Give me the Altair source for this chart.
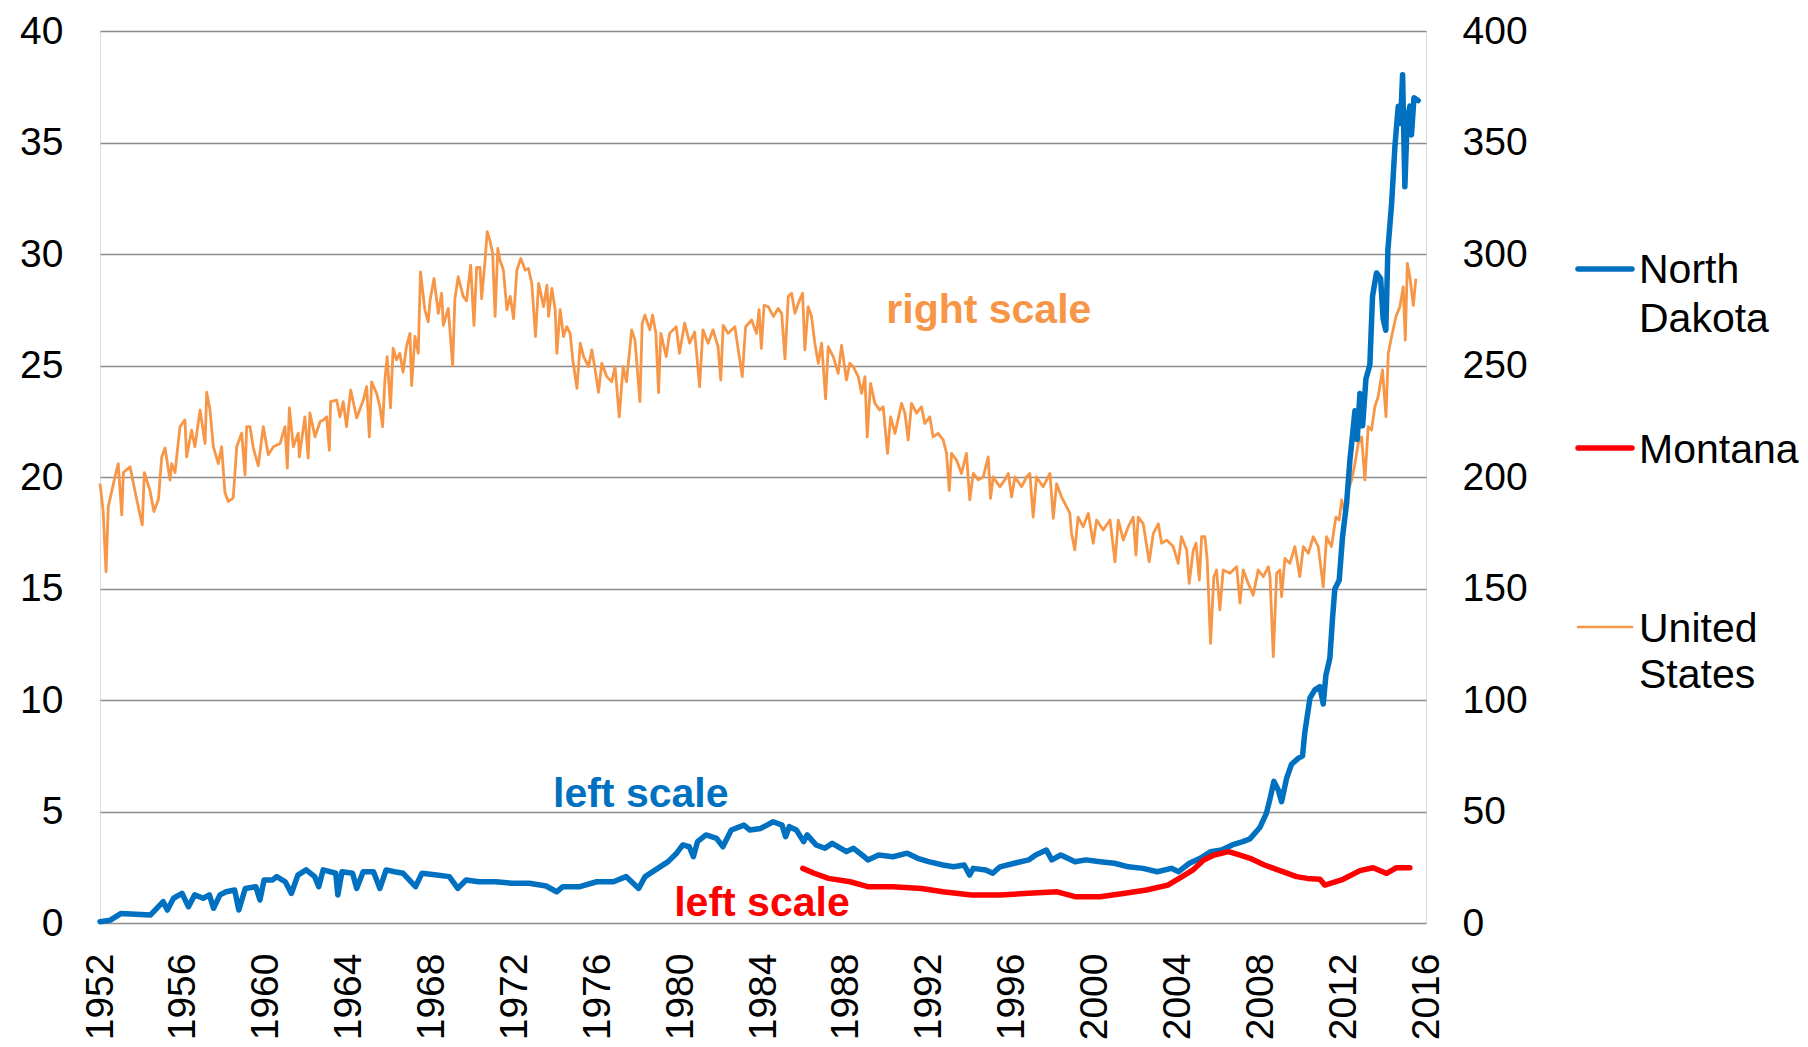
import altair as alt
import pandas as pd

FONT = "Liberation Sans"
YEAR_TICKS = list(range(1952, 2017, 4))
LEFT_TICKS = list(range(0, 41, 5))
RIGHT_TICKS = list(range(0, 401, 50))

# United States (right scale)
us_years = [1952.00, 1952.15, 1952.29, 1952.40, 1952.72, 1952.88, 1953.05, 1953.13, 1953.45, 1953.77,
            1954.04, 1954.14, 1954.41, 1954.60, 1954.82, 1954.98, 1955.14, 1955.38, 1955.46, 1955.62,
            1955.86, 1956.10, 1956.18, 1956.42, 1956.58, 1956.83, 1957.07, 1957.15, 1957.31, 1957.47,
            1957.71, 1957.87, 1958.03, 1958.19, 1958.43, 1958.60, 1958.84, 1959.00, 1959.08, 1959.24,
            1959.40, 1959.64, 1959.88, 1960.12, 1960.37, 1960.69, 1960.93, 1961.04, 1961.14, 1961.33,
            1961.57, 1961.62, 1961.89, 1962.05, 1962.13, 1962.38, 1962.62, 1962.78, 1962.94, 1963.07,
            1963.13, 1963.42, 1963.58, 1963.74, 1963.90, 1964.10, 1964.39, 1964.71, 1964.87, 1965.00,
            1965.11, 1965.35, 1965.51, 1965.64, 1965.75, 1965.86, 1966.02, 1966.15, 1966.31, 1966.47,
            1966.63, 1966.79, 1966.96, 1967.04, 1967.20, 1967.36, 1967.47, 1967.68, 1967.84, 1967.93,
            1968.12, 1968.33, 1968.49, 1968.57, 1968.81, 1969.02, 1969.13, 1969.29, 1969.53, 1969.69,
            1969.89, 1970.05, 1970.18, 1970.34, 1970.42, 1970.58, 1970.69, 1970.82, 1970.95, 1971.07,
            1971.20, 1971.31, 1971.47, 1971.64, 1971.80, 1971.96, 1972.12, 1972.31, 1972.52, 1972.68,
            1972.84, 1973.02, 1973.17, 1973.41, 1973.57, 1973.65, 1973.81, 1973.97, 1974.05, 1974.21,
            1974.37, 1974.53, 1974.69, 1974.82, 1975.02, 1975.18, 1975.34, 1975.58, 1975.74, 1975.90,
            1976.06, 1976.22, 1976.46, 1976.70, 1976.86, 1977.06, 1977.25, 1977.41, 1977.55, 1977.66,
            1977.82, 1978.06, 1978.17, 1978.30, 1978.54, 1978.67, 1978.83, 1978.96, 1979.07, 1979.33,
            1979.49, 1979.81, 1979.97, 1980.22, 1980.46, 1980.70, 1980.94, 1981.10, 1981.35, 1981.59,
            1981.83, 1981.96, 1982.08, 1982.32, 1982.64, 1983.00, 1983.16, 1983.45, 1983.69, 1983.81,
            1983.92, 1984.05, 1984.25, 1984.50, 1984.73, 1984.90, 1985.06, 1985.22, 1985.38, 1985.54,
            1985.75, 1985.91, 1986.02, 1986.18, 1986.34, 1986.50, 1986.67, 1986.83, 1987.02, 1987.15,
            1987.39, 1987.63, 1987.79, 1988.03, 1988.19, 1988.35, 1988.60, 1988.76, 1988.92, 1989.03,
            1989.19, 1989.40, 1989.64, 1989.80, 1990.01, 1990.16, 1990.37, 1990.69, 1990.85, 1991.01,
            1991.17, 1991.41, 1991.65, 1991.81, 1992.05, 1992.21, 1992.45, 1992.70, 1992.86, 1992.99,
            1993.10, 1993.34, 1993.58, 1993.82, 1993.98, 1994.15, 1994.39, 1994.63, 1994.87, 1994.98,
            1995.11, 1995.43, 1995.67, 1995.84, 1996.00, 1996.16, 1996.48, 1996.72, 1996.88, 1997.04,
            1997.20, 1997.52, 1997.85, 1998.01, 1998.17, 1998.41, 1998.65, 1998.81, 1998.89, 1999.05,
            1999.21, 1999.45, 1999.70, 1999.94, 2000.10, 2000.42, 2000.75, 2000.99, 2001.15, 2001.39,
            2001.63, 2001.87, 2002.00, 2002.11, 2002.35, 2002.64, 2002.84, 2003.08, 2003.24, 2003.48,
            2003.80, 2004.04, 2004.20, 2004.45, 2004.57, 2004.77, 2004.90, 2005.06, 2005.17, 2005.33,
            2005.44, 2005.60, 2005.76, 2005.89, 2006.05, 2006.21, 2006.54, 2006.86, 2007.02, 2007.18,
            2007.42, 2007.66, 2007.90, 2008.15, 2008.39, 2008.47, 2008.63, 2008.79, 2008.95, 2009.03,
            2009.19, 2009.43, 2009.67, 2009.91, 2010.08, 2010.32, 2010.56, 2010.80, 2011.04, 2011.20,
            2011.44, 2011.65, 2011.81, 2011.93, 2012.09, 2012.25, 2012.41, 2012.57, 2012.73, 2012.89,
            2013.05, 2013.21, 2013.37, 2013.53, 2013.69, 2013.90, 2014.07, 2014.18, 2014.34, 2014.55,
            2014.74, 2014.90, 2015.00, 2015.10, 2015.22, 2015.39, 2015.51]
us_values = [197, 185, 157.5, 186.7, 200, 206, 183, 202, 204.6, 190,
             178.5, 202, 194, 184.5, 190, 209, 213, 198.6, 206, 202,
             222.6, 225.6, 209, 221, 213.6, 230, 215, 238, 230, 213.6,
             206, 213.6, 193, 189, 190.6, 213.6, 219.7, 201, 222.6, 222.6,
             213, 205, 222.6, 210, 213.6, 215, 222.6, 204, 231, 213.6,
             219.7, 209, 227, 208.5, 228.7, 218, 224.8, 225.6, 227, 212,
             233.8, 234.5, 227, 233.8, 222.6, 239, 226.5, 234.5, 240.5, 218,
             242.7, 237.5, 231.5, 222.6, 243.5, 254, 231, 257.8, 252.5, 255.5,
             247, 258.4, 264.4, 241, 263, 255.5, 292, 275, 269.6, 279,
             289, 273.4, 282.4, 268, 275.6, 250, 280, 289.8, 281, 279,
             295, 268, 294, 294, 280, 296.5, 310, 306, 300.4, 272,
             302.5, 297, 292.8, 275, 281, 271, 292.8, 298, 292.8, 293.5,
             286.8, 263, 286.8, 276.4, 286, 272, 284.6, 275, 255.5, 275,
             263, 267.4, 264.4, 252.5, 239.8, 260, 254, 249.5, 257, 248,
             238, 251, 245, 242.7, 249.5, 227, 249.5, 242.7, 255.5, 266,
             261.4, 233.8, 269, 272.6, 266, 272.6, 264.4, 237.8, 264.4, 254,
             264.4, 267.4, 255.5, 269, 260, 265, 240.5, 266, 260, 266,
             258.4, 243.5, 268, 264.4, 267.4, 245, 267.4, 270.4, 264.4, 275,
             257.7, 277, 276.4, 272, 275.6, 273.4, 253, 281, 282.4, 273.4,
             279, 282.4, 257, 276.4, 272, 260, 251, 260, 235, 258.4,
             254, 246.5, 259, 243.5, 251, 249.5, 245, 237.5, 245, 218,
             242, 233, 230, 231.5, 210.6, 227, 219.6, 233, 228.6, 216.6,
             233, 228.6, 231.5, 224, 227, 218, 219.6, 216.6, 210.6, 194,
             210.6, 207.6, 201.6, 210.6, 189.7, 201.6, 198.7, 200, 209, 190.4,
             200, 195.6, 198.7, 201.6, 191, 200, 195.6, 200, 201.6, 182,
             200, 195.6, 201.6, 181.5, 197, 191, 186.7, 183.7, 174.7, 167.3,
             182, 177.7, 183.7, 170.3, 180.7, 176.2, 180.7, 162, 180.7, 171.7,
             177.7, 182, 165, 182, 179, 162, 174.7, 179, 170.3, 171.7,
             168.8, 161.3, 173.2, 167.3, 152.3, 167.3, 170.3, 153.8, 173.2, 173.2,
             162.8, 125.4, 155.3, 158.3, 140.4, 158.3, 156.8, 159.8, 143.4, 158.3,
             152.3, 147, 158.3, 155.3, 159.8, 155.3, 119.4, 156.8, 158.3, 146.3,
             163.5, 161.3, 168.8, 155.3, 168.8, 165.8, 173.2, 168.8, 150.8, 173.2,
             168.8, 182, 180.7, 189.7, 183.7, 194, 198.7, 206, 215, 218,
             198.7, 222.6, 221, 231.5, 236, 248, 227, 255.5, 263, 272,
             276.4, 285.3, 261.4, 295.8, 289.8, 277, 289]

# North Dakota (left scale)
nd_years = [1952.00, 1952.50, 1953.02, 1954.44, 1955.05, 1955.25, 1955.55, 1955.96, 1956.27, 1956.57,
            1956.98, 1957.28, 1957.48, 1957.79, 1958.09, 1958.50, 1958.70, 1959.01, 1959.52, 1959.72,
            1959.92, 1960.33, 1960.53, 1960.94, 1961.24, 1961.55, 1961.95, 1962.36, 1962.56, 1962.77,
            1963.38, 1963.48, 1963.68, 1964.19, 1964.39, 1964.70, 1965.20, 1965.51, 1965.81, 1966.22,
            1966.63, 1967.23, 1967.54, 1968.25, 1968.86, 1969.27, 1969.67, 1970.28, 1971.09, 1971.91,
            1972.72, 1973.53, 1974.04, 1974.34, 1975.16, 1975.97, 1976.78, 1977.39, 1978.00, 1978.31,
            1978.81, 1979.42, 1979.83, 1980.13, 1980.44, 1980.64, 1980.84, 1981.25, 1981.76, 1982.06,
            1982.47, 1983.08, 1983.37, 1983.89, 1984.49, 1984.92, 1985.09, 1985.27, 1985.61, 1985.96,
            1986.13, 1986.56, 1986.99, 1987.34, 1988.03, 1988.37, 1988.89, 1989.06, 1989.58, 1990.27,
            1990.96, 1991.47, 1991.99, 1992.68, 1993.20, 1993.71, 1993.97, 1994.15, 1994.75, 1995.09,
            1995.44, 1996.13, 1996.82, 1997.16, 1997.68, 1997.94, 1998.37, 1998.71, 1999.06, 1999.58,
            2000.27, 2000.96, 2001.64, 2002.34, 2003.03, 2003.71, 2004.06, 2004.58, 2005.10, 2005.61,
            2006.13, 2006.65, 2007.16, 2007.50, 2007.98, 2008.30, 2008.47, 2008.66, 2008.87, 2009.03,
            2009.27, 2009.51, 2009.83, 2010.04, 2010.15, 2010.40, 2010.64, 2010.88, 2011.04, 2011.17,
            2011.36, 2011.49, 2011.60, 2011.81, 2011.97, 2012.17, 2012.33, 2012.46, 2012.57, 2012.68,
            2012.81, 2012.94, 2013.10, 2013.29, 2013.42, 2013.61, 2013.81, 2013.93, 2014.06, 2014.16,
            2014.34, 2014.50, 2014.66, 2014.77, 2014.87, 2014.98, 2015.09, 2015.22, 2015.30, 2015.42,
            2015.62]
nd_values = [0.06, 0.13, 0.43, 0.36, 0.96, 0.58, 1.11, 1.33, 0.73, 1.26,
             1.11, 1.26, 0.66, 1.26, 1.40, 1.48, 0.58, 1.55, 1.63, 1.03,
             1.93, 1.93, 2.08, 1.85, 1.33, 2.15, 2.38, 2.08, 1.63, 2.38,
             2.23, 1.26, 2.30, 2.23, 1.55, 2.30, 2.30, 1.55, 2.38, 2.30,
             2.23, 1.63, 2.23, 2.15, 2.08, 1.55, 1.93, 1.85, 1.85, 1.78,
             1.78, 1.66, 1.40, 1.63, 1.63, 1.85, 1.85, 2.08, 1.55, 2.08,
             2.38, 2.75, 3.13, 3.50, 3.42, 2.97, 3.65, 3.95, 3.80, 3.42,
             4.17, 4.39, 4.17, 4.24, 4.54, 4.39, 3.87, 4.32, 4.17, 3.65,
             3.95, 3.50, 3.35, 3.57, 3.20, 3.35, 2.97, 2.83, 3.05, 2.97,
             3.13, 2.90, 2.75, 2.60, 2.52, 2.60, 2.15, 2.45, 2.38, 2.23,
             2.52, 2.68, 2.83, 3.05, 3.27, 2.83, 3.05, 2.90, 2.75, 2.83,
             2.75, 2.68, 2.52, 2.45, 2.30, 2.45, 2.30, 2.68, 2.90, 3.20,
             3.27, 3.50, 3.65, 3.77, 4.28, 4.93, 5.57, 6.35, 5.96, 5.44,
             6.48, 7.12, 7.38, 7.49, 8.54, 10.09, 10.47, 10.60, 9.82, 11.12,
             11.88, 13.69, 14.98, 15.37, 17.30, 18.84, 20.78, 21.94, 22.97, 21.68,
             23.74, 22.30, 24.39, 25.03, 28.12, 29.15, 28.90, 27.09, 26.58, 30.18,
             32.25, 34.83, 36.63, 35.86, 38.04, 33.02, 35.98, 36.63, 35.34, 37.01,
             36.88]

# Montana (left scale)
mt_years = [1985.92, 1986.47, 1987.16, 1988.20, 1989.06, 1990.27, 1991.65, 1992.68, 1994.06, 1995.44,
            1996.82, 1998.20, 1999.06, 2000.27, 2001.47, 2002.51, 2003.54, 2004.23, 2004.75, 2005.27,
            2005.78, 2006.47, 2006.99, 2007.51, 2008.20, 2008.95, 2009.75, 2010.27, 2010.88, 2011.12,
            2012.00, 2012.81, 2013.45, 2014.10, 2014.58, 2015.22]
mt_values = [2.45, 2.23, 2.00, 1.85, 1.63, 1.63, 1.55, 1.40, 1.26, 1.26,
             1.33, 1.40, 1.18, 1.18, 1.33, 1.48, 1.70, 2.08, 2.38, 2.83,
             3.05, 3.20, 3.05, 2.90, 2.60, 2.35, 2.08, 2.00, 1.96, 1.70,
             1.96, 2.35, 2.48, 2.22, 2.48, 2.48]

# Annotations: text, year, value, color, scale
notes = [
    ("right scale", 1994.9, 269, "#F79646", "right"),
    ("left scale", 1978.1, 5.22, "#0070C0", "left"),
    ("left scale", 1983.95, 0.31, "#FF0000", "left"),
]

# Legend entries
legend_labels = [["North", "Dakota"], ["Montana"], ["United", "States"]]
legend_colors = ["#0070C0", "#FF0000", "#F79646"]
legend_widths = [5.5, 5.5, 2.5]

us_df = pd.DataFrame({"year": us_years, "value": us_values})
nd_df = pd.DataFrame({"year": nd_years, "value": nd_values})
mt_df = pd.DataFrame({"year": mt_years, "value": mt_values})

GRID = "#8c8c8c"

x_enc = alt.X(
    "year:Q",
    scale=alt.Scale(domain=[1952, 2016], nice=False, zero=False),
    axis=alt.Axis(values=YEAR_TICKS, format="d", labelAngle=270, labelFontSize=39,
                  labelPadding=30, ticks=False, domain=False, grid=False, labelFont=FONT,
                  labelColor="black", labelOverlap=False, labelFlush=False),
    title=None,
)

left_scale = alt.Scale(domain=[0, 40], nice=False, zero=True)
right_scale = alt.Scale(domain=[0, 400], nice=False, zero=True)

left_axis = alt.Axis(orient="left", values=LEFT_TICKS, grid=True, gridColor=GRID, gridWidth=1.5,
                     ticks=False, domain=False, labelPadding=37, labelFontSize=39, labelFont=FONT,
                     labelColor="black")
right_axis = alt.Axis(orient="right", values=RIGHT_TICKS, grid=False, ticks=False, domain=False,
                      labelPadding=36, labelFontSize=39, labelFont=FONT, labelColor="black")

us_line = alt.Chart(us_df).mark_line(color="#F79646", strokeWidth=2.8, strokeJoin="round").encode(
    x=x_enc, y=alt.Y("value:Q", scale=right_scale, axis=right_axis, title=None))
nd_line = alt.Chart(nd_df).mark_line(color="#0070C0", strokeWidth=5.5, strokeJoin="round", strokeCap="round").encode(
    x=x_enc, y=alt.Y("value:Q", scale=left_scale, axis=left_axis, title=None))
mt_line = alt.Chart(mt_df).mark_line(color="#FF0000", strokeWidth=5.5, strokeJoin="round", strokeCap="round").encode(
    x=x_enc, y=alt.Y("value:Q", scale=left_scale, axis=None, title=None))

layers = [us_line, nd_line, mt_line]

for text, yr, val, col, side in notes:
    sc = right_scale if side == "right" else left_scale
    layers.append(
        alt.Chart(pd.DataFrame({"year": [yr], "value": [val], "label": [text]}))
        .mark_text(color=col, fontSize=41, fontWeight="bold", font=FONT, align="center", baseline="alphabetic")
        .encode(x=x_enc, y=alt.Y("value:Q", scale=sc, axis=None, title=None), text="label:N")
    )

# manual legend (pixel positions relative to the plot area)
leg_line_y = [238, 417, 596]
leg_text_y = [[252, 301], [432], [611, 657]]
one = alt.Data(values=[{"k": 1}])
for labels, col, w, ly, tys in zip(legend_labels, legend_colors, legend_widths, leg_line_y, leg_text_y):
    layers.append(
        alt.Chart(one).mark_rule(color=col, strokeWidth=w, strokeCap="round").encode(
            x=alt.value(1478), x2=alt.value(1532), y=alt.value(ly))
    )
    for lab, ty in zip(labels, tys):
        layers.append(
            alt.Chart(one).mark_text(text=lab, align="left", baseline="alphabetic", fontSize=41,
                                     font=FONT, color="black").encode(
                x=alt.value(1539), y=alt.value(ty))
        )

chart = (
    alt.layer(*layers)
    .resolve_scale(y="independent")
    .properties(width=1326, height=892, autosize=alt.AutoSizeParams(type="none"),
                padding={"left": 92, "top": 23, "right": 374, "bottom": 116})
    .configure_view(stroke=GRID, strokeWidth=2)
    .configure(background="white")
)

chart.save("out.html", embed_options={"renderer": "svg", "actions": False})
